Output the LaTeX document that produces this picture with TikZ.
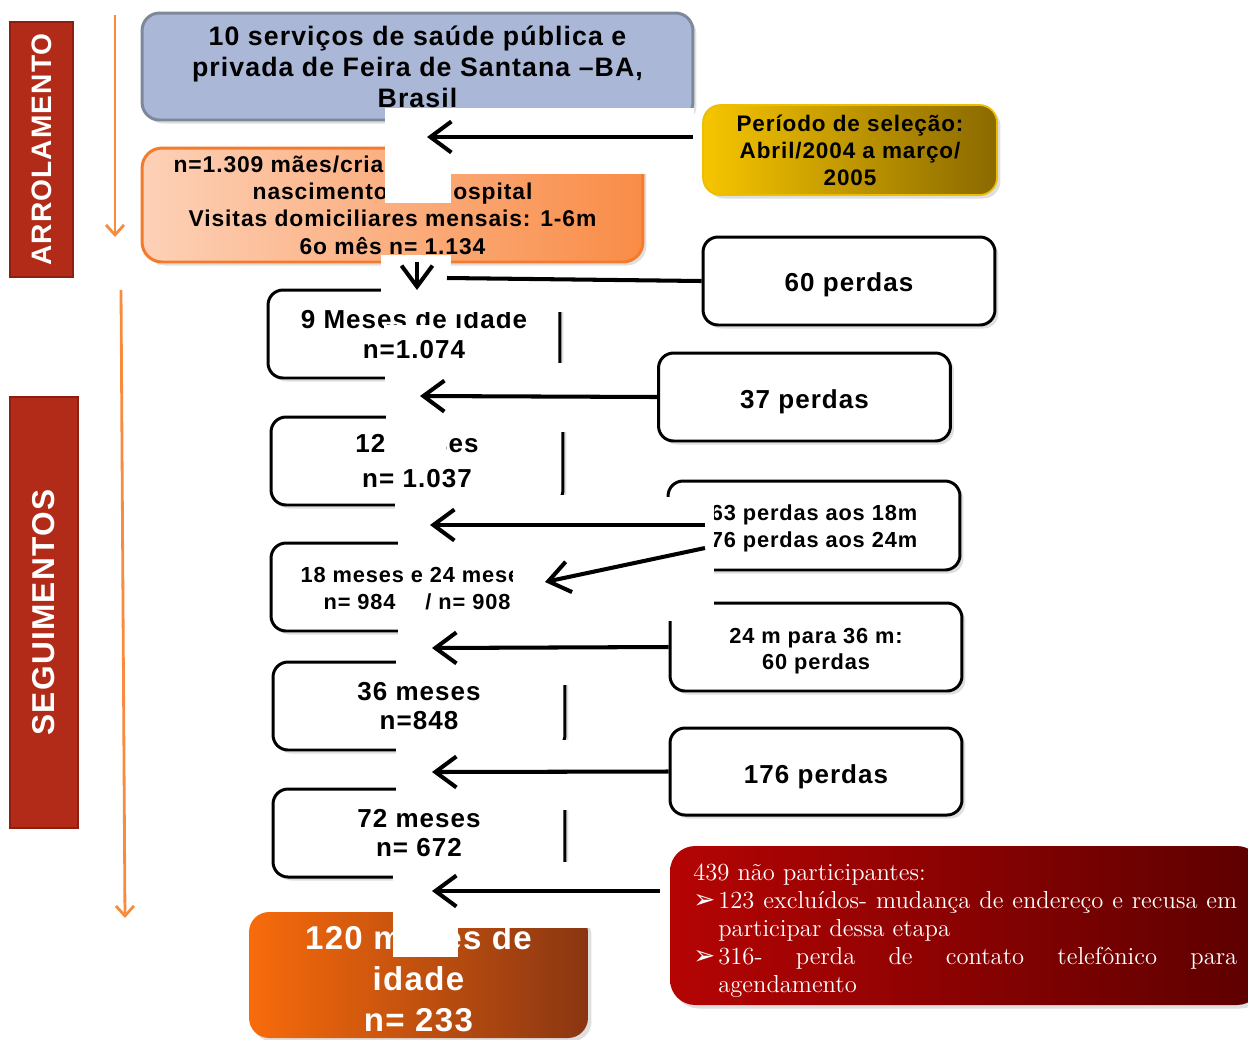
\documentclass[tikz,border=0pt]{standalone}
\usepackage{fontspec}
\usetikzlibrary{arrows.meta,shadows}
\newfontfamily\lsans[LetterSpace=4]{Liberation Sans}
\newfontfamily\dejavu{DejaVu Sans}
\newcommand\lowtext[2]{\raisebox{-#1}[\height][\depth]{\begin{tabular}{@{}c@{}}#2\end{tabular}}}
\newcommand\lowone[2]{\raisebox{-#1}[\height][\depth]{#2}}
\definecolor{bluefill}{HTML}{AAB7D6}
\definecolor{blueline}{HTML}{7D889B}
\definecolor{peachL}{HTML}{FDD1B8}
\definecolor{peachR}{HTML}{F98C47}
\definecolor{peachline}{HTML}{F57B2C}
\definecolor{goldL}{HTML}{F6C500}
\definecolor{goldR}{HTML}{8A6900}
\definecolor{goldline}{HTML}{EDBE00}
\definecolor{sidered}{HTML}{B22B18}
\definecolor{sideline}{HTML}{8C1F10}
\definecolor{noteL}{HTML}{B50404}
\definecolor{noteR}{HTML}{5C0000}
\definecolor{finL}{HTML}{F86B0B}
\definecolor{finR}{HTML}{8A3612}
\definecolor{orarrow}{HTML}{F78C3E}
\begin{document}
\begin{tikzpicture}[x=0.02cm,y=-0.02cm,
  bx/.style={draw, line width=1.7pt, rounded corners=0.3cm, inner sep=0pt, align=center},
  shd/.style={drop shadow={opacity=0.25,shadow xshift=2pt,shadow yshift=-2pt}},
  rowbox/.style={bx, fill=white, shd, minimum width=5.84cm, minimum height=1.76cm, font=\lsans\bfseries\fontsize{14.8}{17}\selectfont},
  smallfont/.style={font=\lsans\bfseries\fontsize{12.4}{15.2}\selectfont},
  sidebox/.style={fill=sidered, draw=sideline, line width=1.2pt, text=white, inner sep=0pt, rotate=90},
  blk/.style={line width=2.3pt, -{Straight Barb[length=0.42cm,width=0.62cm]}},
  oarr/.style={orarrow, line width=1.6pt, -{Straight Barb[length=0.2cm,width=0.36cm]}},
  mask/.style={fill=white, draw=none}]
\useasboundingbox (0,0) rectangle (1248,1039);

% side labels
\node[sidebox, minimum width=5.1cm, minimum height=1.26cm, font=\lsans\bfseries\fontsize{16}{19}\selectfont] (arrol) at (41.5,149.5) {ARROLAMENTO};
\node[sidebox, minimum width=8.62cm, minimum height=1.36cm, font=\lsans\bfseries\fontsize{18}{21}\selectfont] (segu) at (44,612.5) {SEGUIMENTOS};
\coordinate (o1a) at (115,15); \coordinate (o1b) at (115,237);
\coordinate (o2a) at (121,290); \coordinate (o2b) at (125,918);
\draw[oarr] (o1a) -- (o1b);
\draw[oarr] (o2a) -- (o2b);

% enrolment boxes
\node[bx, draw=blueline, fill=bluefill, shd, rounded corners=0.35cm, minimum width=11.02cm, minimum height=2.14cm, font=\lsans\bfseries\fontsize{15.2}{17.6}\selectfont] (blue) at (417.5,66.5) {10 serviços de saúde pública e\\privada de Feira de Santana –BA,\\Brasil};
\node[bx, draw=peachline, left color=peachL, right color=peachR, shd, rounded corners=0.4cm, minimum width=10.02cm, minimum height=2.28cm, font=\lsans\bfseries\fontsize{13}{15.6}\selectfont] (enrol) at (392.5,205) {\makebox[8.76cm][l]{n=1.309 mães/crianças}\\nascimento, no hospital\\Visitas domiciliares mensais: 1-6m\\6o mês n= 1.134};
\node[bx, draw=goldline, line width=1pt, left color=goldL, right color=goldR, shd, rounded corners=0.35cm, minimum width=5.88cm, minimum height=1.8cm, font=\lsans\bfseries\fontsize{12.8}{15.4}\selectfont] (sel) at (850,150) {Período de seleção:\\Abril/2004 a março/\\2005};

% follow-up boxes
\node[rowbox] (m9) at (414,334) {9 Meses de idade\\n=1.074};
\node[rowbox] (m12) at (417,461) {12 meses\\[3pt]n= 1.037};
\node[rowbox, smallfont] (m18) at (417,587) {\lowtext{2.2pt}{18 meses e 24 meses\\n= 984\hspace{0.6cm}/ n= 908}};
\node[rowbox] (m36) at (419,706) {36 meses\\n=848};
\node[rowbox] (m72) at (419,833) {72 meses\\n= 672};

% losses
\node[rowbox] (p60) at (849,281) {\lowone{2.3pt}{60 perdas}};
\node[rowbox] (p37) at (804.5,397) {\lowone{2.8pt}{37 perdas}};
\node[rowbox, smallfont, minimum height=1.78cm] (p1824) at (814,525.5) {\lowtext{1.7pt}{63 perdas aos 18m\\76 perdas aos 24m}};
\node[rowbox, smallfont] (p24) at (816,647) {\lowtext{2.3pt}{24 m para 36 m:\\60 perdas}};
\node[rowbox, minimum height=1.74cm] (p176) at (816,771.5) {\lowone{2.8pt}{176 perdas}};

% note box
\node[bx, draw=none, left color=noteL, right color=noteR, shd, rounded corners=0.5cm, minimum width=11.84cm, minimum height=3.18cm] (note) at (966,925.5) {};
\node[anchor=north west, inner sep=0pt, text=white, align=left, font=\fontsize{14}{15.8}\selectfont] (nt) at (693,864) {439 não participantes:\\
\makebox[10.88cm][s]{\makebox[0.5cm][l]{\dejavu\fontsize{15}{15}\selectfont ➢}123 excluídos- mudança de endereço e recusa em}\\
\hspace*{0.5cm}participar dessa etapa\\
\makebox[10.88cm][s]{\makebox[0.5cm][l]{\dejavu\fontsize{15}{15}\selectfont ➢}316- perda de contato telefônico para}\\
\hspace*{0.5cm}agendamento};

% final box
\node[bx, draw=none, left color=finL, right color=finR, shd, rounded corners=0.4cm, minimum width=6.78cm, minimum height=2.52cm, text=white, font=\lsans\bfseries\fontsize{18.8}{23.3}\selectfont] (m120) at (418.5,975) {\lowtext{4pt}{120 meses de\\idade\\n= 233}};

% white masks
\fill[mask] (385,108) rectangle (694,174);
\fill[mask] (385,174) rectangle (451,203);
\fill[mask] (381,255) rectangle (451,292);
\fill[mask] (385,284) rectangle (600,312);
\fill[mask] (384,325) rectangle (430,339);
\fill[mask] (385,363) rectangle (600,386);
\fill[mask] (386,408) rectangle (600,432);
\fill[mask] (388,408) rectangle (446,460);
\fill[mask] (395,495) rectangle (600,514);
\fill[mask] (398,534) rectangle (600,560);
\fill[mask] (513,560) rectangle (600,640);
\fill[mask] (398,620) rectangle (600,640);
\fill[mask] (660,497) rectangle (714,580);
\fill[mask] (662,594) rectangle (714,621);
\fill[mask] (396,653) rectangle (600,685);
\fill[mask] (396,740) rectangle (600,758);
\fill[mask] (396,780) rectangle (600,810);
\fill[mask] (393,862) rectangle (600,885);
\fill[mask] (393,903) rectangle (458,957);
\fill[mask] (393,903) rectangle (596,928);

% connectors
\coordinate (s1) at (693,137); \coordinate (t1) at (427,137);
\coordinate (t2) at (420,396);
\coordinate (s3) at (705,525); \coordinate (t3) at (430,525);
\coordinate (s4) at (705,548); \coordinate (t4) at (545,582);
\coordinate (t5) at (432,648);
\coordinate (t6) at (432,772);
\coordinate (s7) at (660,891); \coordinate (t7) at (432,891);
\coordinate (j60) at (447,278);
\coordinate (d0) at (417,262); \coordinate (d1) at (417,290);
\draw[blk] (s1) -- (t1);
\draw[line width=2.3pt] (p60.west) -- (j60);
\draw[blk] (d0) -- (d1);
\draw[blk] (p37.west) -- (t2);
\draw[blk] (s3) -- (t3);
\draw[blk] (s4) -- (t4);
\draw[blk] (p24.west) -- (t5);
\draw[blk] (p176.west) -- (t6);
\draw[blk] (s7) -- (t7);
\end{tikzpicture}
\end{document}
